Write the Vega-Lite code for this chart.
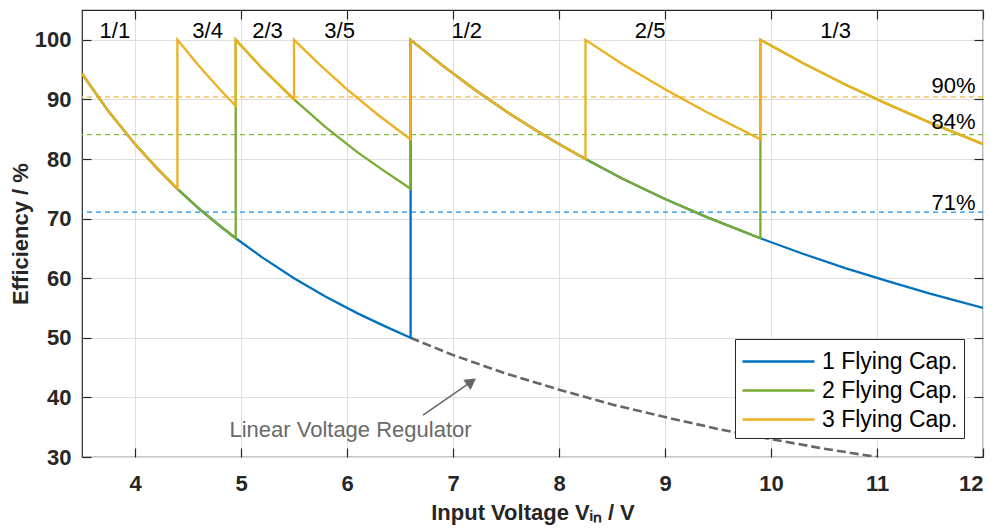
{
  "$schema": "https://vega.github.io/schema/vega-lite/v6.json",
  "width": 901,
  "height": 447,
  "autosize": "none",
  "padding": {"left": 82, "top": 10, "right": 17, "bottom": 73},
  "background": "white",
  "config": {
    "font": "Liberation Sans",
    "view": {"stroke": "#262626", "strokeWidth": 1.2}
  },
  "datasets": {
    "curves": [
      {"series": "1 Flying Cap.", "i": 1, "v": 3.5, "eff": 94.3},
      {"series": "1 Flying Cap.", "i": 2, "v": 3.75, "eff": 88.0},
      {"series": "1 Flying Cap.", "i": 3, "v": 4.0, "eff": 82.5},
      {"series": "1 Flying Cap.", "i": 4, "v": 4.2, "eff": 78.6},
      {"series": "1 Flying Cap.", "i": 5, "v": 4.4, "eff": 75.0},
      {"series": "1 Flying Cap.", "i": 6, "v": 4.6, "eff": 71.7},
      {"series": "1 Flying Cap.", "i": 7, "v": 4.8, "eff": 68.8},
      {"series": "1 Flying Cap.", "i": 8, "v": 4.95, "eff": 66.7},
      {"series": "1 Flying Cap.", "i": 9, "v": 5.2, "eff": 63.5},
      {"series": "1 Flying Cap.", "i": 10, "v": 5.5, "eff": 60.0},
      {"series": "1 Flying Cap.", "i": 11, "v": 5.8, "eff": 56.9},
      {"series": "1 Flying Cap.", "i": 12, "v": 6.1, "eff": 54.1},
      {"series": "1 Flying Cap.", "i": 13, "v": 6.35, "eff": 52.0},
      {"series": "1 Flying Cap.", "i": 14, "v": 6.6, "eff": 50.0},
      {"series": "1 Flying Cap.", "i": 15, "v": 6.6, "eff": 100},
      {"series": "1 Flying Cap.", "i": 16, "v": 6.9, "eff": 95.7},
      {"series": "1 Flying Cap.", "i": 17, "v": 7.2, "eff": 91.7},
      {"series": "1 Flying Cap.", "i": 18, "v": 7.5, "eff": 88.0},
      {"series": "1 Flying Cap.", "i": 19, "v": 7.8, "eff": 84.6},
      {"series": "1 Flying Cap.", "i": 20, "v": 8.0, "eff": 82.5},
      {"series": "1 Flying Cap.", "i": 21, "v": 8.25, "eff": 80.0},
      {"series": "1 Flying Cap.", "i": 22, "v": 8.6, "eff": 76.7},
      {"series": "1 Flying Cap.", "i": 23, "v": 9.0, "eff": 73.3},
      {"series": "1 Flying Cap.", "i": 24, "v": 9.4, "eff": 70.2},
      {"series": "1 Flying Cap.", "i": 25, "v": 9.9, "eff": 66.7},
      {"series": "1 Flying Cap.", "i": 26, "v": 10.3, "eff": 64.1},
      {"series": "1 Flying Cap.", "i": 27, "v": 10.7, "eff": 61.7},
      {"series": "1 Flying Cap.", "i": 28, "v": 11.1, "eff": 59.5},
      {"series": "1 Flying Cap.", "i": 29, "v": 11.5, "eff": 57.4},
      {"series": "1 Flying Cap.", "i": 30, "v": 12.0, "eff": 55.0},
      {"series": "2 Flying Cap.", "i": 1, "v": 3.5, "eff": 94.3},
      {"series": "2 Flying Cap.", "i": 2, "v": 3.75, "eff": 88.0},
      {"series": "2 Flying Cap.", "i": 3, "v": 4.0, "eff": 82.5},
      {"series": "2 Flying Cap.", "i": 4, "v": 4.2, "eff": 78.6},
      {"series": "2 Flying Cap.", "i": 5, "v": 4.4, "eff": 75.0},
      {"series": "2 Flying Cap.", "i": 6, "v": 4.6, "eff": 71.7},
      {"series": "2 Flying Cap.", "i": 7, "v": 4.8, "eff": 68.8},
      {"series": "2 Flying Cap.", "i": 8, "v": 4.95, "eff": 66.7},
      {"series": "2 Flying Cap.", "i": 9, "v": 4.95, "eff": 100},
      {"series": "2 Flying Cap.", "i": 10, "v": 5.2, "eff": 95.2},
      {"series": "2 Flying Cap.", "i": 11, "v": 5.5, "eff": 90.0},
      {"series": "2 Flying Cap.", "i": 12, "v": 5.8, "eff": 85.3},
      {"series": "2 Flying Cap.", "i": 13, "v": 6.1, "eff": 81.1},
      {"series": "2 Flying Cap.", "i": 14, "v": 6.35, "eff": 78.0},
      {"series": "2 Flying Cap.", "i": 15, "v": 6.6, "eff": 75.0},
      {"series": "2 Flying Cap.", "i": 16, "v": 6.6, "eff": 100},
      {"series": "2 Flying Cap.", "i": 17, "v": 6.9, "eff": 95.7},
      {"series": "2 Flying Cap.", "i": 18, "v": 7.2, "eff": 91.7},
      {"series": "2 Flying Cap.", "i": 19, "v": 7.5, "eff": 88.0},
      {"series": "2 Flying Cap.", "i": 20, "v": 7.8, "eff": 84.6},
      {"series": "2 Flying Cap.", "i": 21, "v": 8.0, "eff": 82.5},
      {"series": "2 Flying Cap.", "i": 22, "v": 8.25, "eff": 80.0},
      {"series": "2 Flying Cap.", "i": 23, "v": 8.6, "eff": 76.7},
      {"series": "2 Flying Cap.", "i": 24, "v": 9.0, "eff": 73.3},
      {"series": "2 Flying Cap.", "i": 25, "v": 9.4, "eff": 70.2},
      {"series": "2 Flying Cap.", "i": 26, "v": 9.9, "eff": 66.7},
      {"series": "2 Flying Cap.", "i": 27, "v": 9.9, "eff": 100},
      {"series": "2 Flying Cap.", "i": 28, "v": 10.3, "eff": 96.1},
      {"series": "2 Flying Cap.", "i": 29, "v": 10.7, "eff": 92.5},
      {"series": "2 Flying Cap.", "i": 30, "v": 11.1, "eff": 89.2},
      {"series": "2 Flying Cap.", "i": 31, "v": 11.5, "eff": 86.1},
      {"series": "2 Flying Cap.", "i": 32, "v": 12.0, "eff": 82.5},
      {"series": "3 Flying Cap.", "i": 1, "v": 3.5, "eff": 94.3},
      {"series": "3 Flying Cap.", "i": 2, "v": 3.75, "eff": 88.0},
      {"series": "3 Flying Cap.", "i": 3, "v": 4.0, "eff": 82.5},
      {"series": "3 Flying Cap.", "i": 4, "v": 4.2, "eff": 78.6},
      {"series": "3 Flying Cap.", "i": 5, "v": 4.4, "eff": 75.0},
      {"series": "3 Flying Cap.", "i": 6, "v": 4.4, "eff": 100},
      {"series": "3 Flying Cap.", "i": 7, "v": 4.6, "eff": 95.7},
      {"series": "3 Flying Cap.", "i": 8, "v": 4.8, "eff": 91.7},
      {"series": "3 Flying Cap.", "i": 9, "v": 4.95, "eff": 88.9},
      {"series": "3 Flying Cap.", "i": 10, "v": 4.95, "eff": 100},
      {"series": "3 Flying Cap.", "i": 11, "v": 5.2, "eff": 95.2},
      {"series": "3 Flying Cap.", "i": 12, "v": 5.5, "eff": 90.0},
      {"series": "3 Flying Cap.", "i": 13, "v": 5.5, "eff": 100},
      {"series": "3 Flying Cap.", "i": 14, "v": 5.75, "eff": 95.7},
      {"series": "3 Flying Cap.", "i": 15, "v": 6.0, "eff": 91.7},
      {"series": "3 Flying Cap.", "i": 16, "v": 6.3, "eff": 87.3},
      {"series": "3 Flying Cap.", "i": 17, "v": 6.6, "eff": 83.3},
      {"series": "3 Flying Cap.", "i": 18, "v": 6.6, "eff": 100},
      {"series": "3 Flying Cap.", "i": 19, "v": 6.9, "eff": 95.7},
      {"series": "3 Flying Cap.", "i": 20, "v": 7.2, "eff": 91.7},
      {"series": "3 Flying Cap.", "i": 21, "v": 7.5, "eff": 88.0},
      {"series": "3 Flying Cap.", "i": 22, "v": 7.8, "eff": 84.6},
      {"series": "3 Flying Cap.", "i": 23, "v": 8.0, "eff": 82.5},
      {"series": "3 Flying Cap.", "i": 24, "v": 8.25, "eff": 80.0},
      {"series": "3 Flying Cap.", "i": 25, "v": 8.25, "eff": 100},
      {"series": "3 Flying Cap.", "i": 26, "v": 8.6, "eff": 95.9},
      {"series": "3 Flying Cap.", "i": 27, "v": 9.0, "eff": 91.7},
      {"series": "3 Flying Cap.", "i": 28, "v": 9.4, "eff": 87.8},
      {"series": "3 Flying Cap.", "i": 29, "v": 9.9, "eff": 83.3},
      {"series": "3 Flying Cap.", "i": 30, "v": 9.9, "eff": 100},
      {"series": "3 Flying Cap.", "i": 31, "v": 10.3, "eff": 96.1},
      {"series": "3 Flying Cap.", "i": 32, "v": 10.7, "eff": 92.5},
      {"series": "3 Flying Cap.", "i": 33, "v": 11.1, "eff": 89.2},
      {"series": "3 Flying Cap.", "i": 34, "v": 11.5, "eff": 86.1},
      {"series": "3 Flying Cap.", "i": 35, "v": 12.0, "eff": 82.5}
    ],
    "linear": [
      {"v": 6.6, "eff": 50.0},
      {"v": 7.0, "eff": 47.1},
      {"v": 7.5, "eff": 44.0},
      {"v": 8.0, "eff": 41.3},
      {"v": 8.5, "eff": 38.8},
      {"v": 9.0, "eff": 36.7},
      {"v": 9.5, "eff": 34.7},
      {"v": 10.0, "eff": 33.0},
      {"v": 10.5, "eff": 31.4},
      {"v": 11.0, "eff": 30.0}
    ],
    "averages": [
      {"series": "1 Flying Cap.", "avg": 71.1},
      {"series": "2 Flying Cap.", "avg": 84.1},
      {"series": "3 Flying Cap.", "avg": 90.4}
    ],
    "pctLabels": [
      {"label": "71%", "v": 11.93, "eff": 71.4},
      {"label": "84%", "v": 11.93, "eff": 85.1},
      {"label": "90%", "v": 11.93, "eff": 91.1}
    ],
    "ratios": [
      {"ratio": "1/1", "v": 3.81, "eff": 100.3},
      {"ratio": "3/4", "v": 4.685, "eff": 100.3},
      {"ratio": "2/3", "v": 5.25, "eff": 100.3},
      {"ratio": "3/5", "v": 5.93, "eff": 100.3},
      {"ratio": "1/2", "v": 7.13, "eff": 100.3},
      {"ratio": "2/5", "v": 8.86, "eff": 100.3},
      {"ratio": "1/3", "v": 10.61, "eff": 100.3}
    ],
    "annot": [
      {"text": "Linear Voltage Regulator", "v": 6.033, "eff": 33.35}
    ],
    "arrow": [
      {"v": 6.717, "eff": 37.03, "v2": 7.174, "eff2": 42.63}
    ]
  },
  "resolve": {"axis": {"x": "independent", "y": "independent"}},
  "layer": [
    {
      "data": {"name": "linear"},
      "mark": {"type": "line", "color": "#666666", "strokeWidth": 2.6, "strokeDash": [9, 4], "clip": true},
      "encoding": {
        "x": {
          "field": "v", "type": "quantitative",
          "scale": {"domain": [3.5, 12], "nice": false, "zero": false},
          "axis": {
            "orient": "bottom",
            "values": [4, 5, 6, 7, 8, 9, 10, 11, 12],
            "grid": true, "gridColor": "#dedede", "gridWidth": 1,
            "domain": false,
            "tickSize": -9, "tickColor": "#262626", "tickWidth": 1.2,
            "labelFont": "Liberation Sans", "labelFontSize": 22, "labelFontWeight": "bold", "labelColor": "#262626",
            "labelPadding": 25,
            "title": "Input Voltage Vᵢₙ / V",
            "titleFont": "Liberation Sans", "titleFontSize": 22, "titleFontWeight": "bold", "titleColor": "#262626",
            "titlePadding": 8
          }
        },
        "y": {
          "field": "eff", "type": "quantitative",
          "scale": {"domain": [30, 105], "nice": false, "zero": false},
          "axis": {
            "orient": "left",
            "values": [30, 40, 50, 60, 70, 80, 90, 100],
            "grid": true, "gridColor": "#dedede", "gridWidth": 1,
            "domain": false,
            "tickSize": -9, "tickColor": "#262626", "tickWidth": 1.2,
            "labelFont": "Liberation Sans", "labelFontSize": 22, "labelFontWeight": "bold", "labelColor": "#262626",
            "labelPadding": 20,
            "title": "Efficiency / %",
            "titleFont": "Liberation Sans", "titleFontSize": 22, "titleFontWeight": "bold", "titleColor": "#262626",
            "titlePadding": 2
          }
        }
      }
    },
    {
      "data": {"name": "averages"},
      "transform": [{"filter": "datum.series === '1 Flying Cap.'"}],
      "mark": {"type": "rule", "strokeWidth": 1.3, "strokeDash": [5, 4], "color": "#1a8fe3"},
      "encoding": {"y": {"field": "avg", "type": "quantitative", "axis": null}}
    },
    {
      "data": {"name": "averages"},
      "transform": [{"filter": "datum.series === '2 Flying Cap.'"}],
      "mark": {"type": "rule", "strokeWidth": 1.3, "strokeDash": [5, 4], "color": "#7fbf3a"},
      "encoding": {"y": {"field": "avg", "type": "quantitative", "axis": null}}
    },
    {
      "data": {"name": "averages"},
      "transform": [{"filter": "datum.series === '3 Flying Cap.'"}],
      "mark": {"type": "rule", "strokeWidth": 1.3, "strokeDash": [5, 4], "color": "#f5c45e"},
      "encoding": {"y": {"field": "avg", "type": "quantitative", "axis": null}}
    },
    {
      "data": {"name": "curves"},
      "transform": [{"filter": "datum.series === '1 Flying Cap.'"}],
      "mark": {"type": "line", "strokeWidth": 2.3, "clip": true},
      "encoding": {
        "x": {"field": "v", "type": "quantitative", "axis": null},
        "y": {"field": "eff", "type": "quantitative", "axis": null},
        "order": {"field": "i", "type": "quantitative"},
        "color": {
          "field": "series", "type": "nominal",
          "scale": {"domain": ["1 Flying Cap.", "2 Flying Cap.", "3 Flying Cap."], "range": ["#0072BD", "#77AC30", "#EDB120"]},
          "legend": {
            "orient": "bottom-right", "offset": 19, "title": null,
            "fillColor": "white", "strokeColor": "#262626",
            "padding": 6, "rowPadding": 0,
            "labelFont": "Liberation Sans", "labelFontSize": 23, "labelColor": "black",
            "symbolType": "M-2.4,0H2.4", "symbolSize": 900, "symbolStrokeWidth": 2.5,
            "symbolOffset": 21, "labelOffset": 27
          }
        }
      }
    },
    {
      "data": {"name": "curves"},
      "transform": [{"filter": "datum.series === '2 Flying Cap.'"}],
      "mark": {"type": "line", "strokeWidth": 2.3, "clip": true},
      "encoding": {
        "x": {"field": "v", "type": "quantitative", "axis": null},
        "y": {"field": "eff", "type": "quantitative", "axis": null},
        "order": {"field": "i", "type": "quantitative"},
        "color": {"field": "series", "type": "nominal"}
      }
    },
    {
      "data": {"name": "curves"},
      "transform": [{"filter": "datum.series === '3 Flying Cap.'"}],
      "mark": {"type": "line", "strokeWidth": 2.3, "clip": true},
      "encoding": {
        "x": {"field": "v", "type": "quantitative", "axis": null},
        "y": {"field": "eff", "type": "quantitative", "axis": null},
        "order": {"field": "i", "type": "quantitative"},
        "color": {"field": "series", "type": "nominal"}
      }
    },
    {
      "data": {"name": "pctLabels"},
      "mark": {"type": "text", "align": "right", "baseline": "alphabetic", "fontSize": 22, "font": "Liberation Sans", "color": "black"},
      "encoding": {
        "x": {"field": "v", "type": "quantitative", "axis": null},
        "y": {"field": "eff", "type": "quantitative", "axis": null},
        "text": {"field": "label"}
      }
    },
    {
      "data": {"name": "ratios"},
      "mark": {"type": "text", "align": "center", "baseline": "alphabetic", "fontSize": 22, "font": "Liberation Sans", "color": "black"},
      "encoding": {
        "x": {
          "field": "v", "type": "quantitative",
          "axis": {
            "orient": "top", "values": [4, 5, 6, 7, 8, 9, 10, 11, 12],
            "labels": false, "grid": false, "domain": false, "title": null,
            "tickSize": -9, "tickColor": "#262626", "tickWidth": 1.2
          }
        },
        "y": {
          "field": "eff", "type": "quantitative",
          "axis": {
            "orient": "right", "values": [30, 40, 50, 60, 70, 80, 90, 100],
            "labels": false, "grid": false, "domain": false, "title": null,
            "tickSize": -9, "tickColor": "#262626", "tickWidth": 1.2
          }
        },
        "text": {"field": "ratio"}
      }
    },
    {
      "data": {"name": "annot"},
      "mark": {"type": "text", "align": "center", "baseline": "alphabetic", "fontSize": 22, "font": "Liberation Sans", "color": "#6a6a6a"},
      "encoding": {
        "x": {"field": "v", "type": "quantitative", "axis": null},
        "y": {"field": "eff", "type": "quantitative", "axis": null},
        "text": {"field": "text"}
      }
    },
    {
      "data": {"name": "arrow"},
      "mark": {"type": "rule", "color": "#666666", "strokeWidth": 1.5},
      "encoding": {
        "x": {"field": "v", "type": "quantitative", "axis": null},
        "y": {"field": "eff", "type": "quantitative", "axis": null},
        "x2": {"field": "v2"},
        "y2": {"field": "eff2"}
      }
    },
    {
      "data": {"name": "arrow"},
      "mark": {"type": "point", "shape": "triangle-up", "angle": 55, "size": 160, "filled": true, "color": "#666666", "opacity": 1},
      "encoding": {
        "x": {"field": "v2", "type": "quantitative", "axis": null},
        "y": {"field": "eff2", "type": "quantitative", "axis": null}
      }
    }
  ]
}
